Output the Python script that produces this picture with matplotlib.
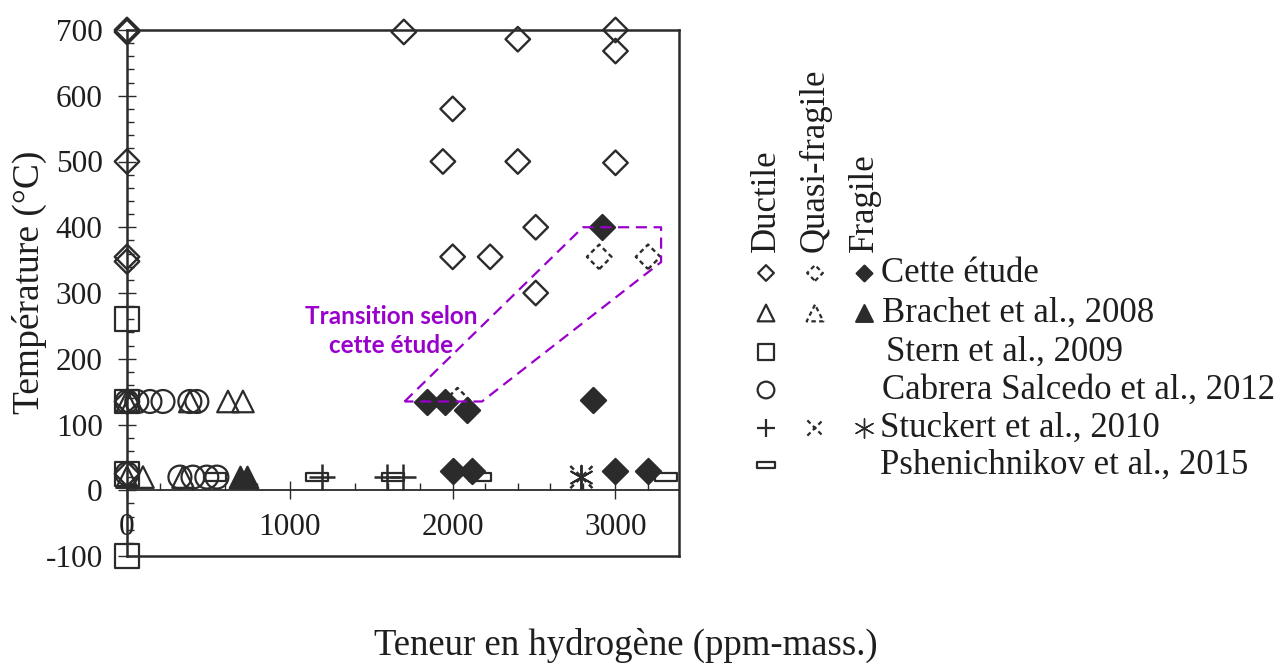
import matplotlib
matplotlib.use('Agg')
import matplotlib.pyplot as plt
from matplotlib.path import Path
from matplotlib.ticker import MultipleLocator

plt.rcParams['font.family'] = ['Liberation Serif', 'DejaVu Serif']
plt.rcParams['axes.unicode_minus'] = False

# --- data (ppm-mass., °C) ---
cette_ductile_x = [0, 0, 0, 0, 0, 0, 0, 1700, 2400, 3000, 3000, 2000, 1940, 2400, 3000, 2510, 2000, 2230, 2510]
cette_ductile_y = [700, 697, 500, 355, 348, 135, 25, 697, 686, 700, 668, 580, 500, 500, 498, 400, 355, 355, 300]
cette_quasi_x = [2900, 3200, 2030]
cette_quasi_y = [355, 355, 137]
cette_fragile_x = [2920, 1840, 1950, 2090, 2860, 2000, 2120, 3000, 3200]
cette_fragile_y = [401, 134, 134, 122, 137, 29, 29, 29, 29]

brachet_ductile_x = [0, 30, 386, 620, 712, 0, 98, 344]
brachet_ductile_y = [135, 135, 135, 135, 135, 20, 20, 20]
brachet_fragile_x = [693, 736]
brachet_fragile_y = [20, 20]

stern_x = [0, 0, 0, 0]
stern_y = [260, -100, 135, 25]

cabrera_x = [0, 60, 141, 221, 386, 429, 0, 325, 405, 490, 552]
cabrera_y = [135, 135, 135, 135, 135, 135, 25, 20, 20, 20, 20]

stuckert_ductile_x = [1196, 1595, 1693]
stuckert_ductile_y = [20, 20, 20]
stuckert_quasi_x = [2791]
stuckert_quasi_y = [20]
stuckert_fragile_x = [2791]
stuckert_fragile_y = [20]

psh_x = [540, 1166, 1632, 2166, 3313]
psh_y = [20, 20, 20, 20, 20]

# transition zone outline
transition_x = [1705, 2800, 3280, 3280, 2180, 1705]
transition_y = [135, 400, 400, 347, 135, 135]

study_labels = ['Cette étude', 'Brachet et al., 2008', 'Stern et al., 2009',
                'Cabrera Salcedo et al., 2012', 'Stuckert et al., 2010',
                'Pshenichnikov et al., 2015']
state_labels = ['Ductile', 'Quasi-fragile', 'Fragile']

ink = '#2b2b2b'
txt = '#1e1e1e'
purple = '#9900cc'
dash = (0, (2, 1.5))
minus = Path([(-0.5, -0.17), (0.5, -0.17), (0.5, 0.17), (-0.5, 0.17), (-0.5, -0.17)],
             [Path.MOVETO, Path.LINETO, Path.LINETO, Path.LINETO, Path.CLOSEPOLY])
star = (6, 2, 0)

fig = plt.figure(figsize=(12.74, 6.64), dpi=100)
ax = fig.add_axes([127 / 1274, 1 - 556 / 664, (679 - 127) / 1274, (556 - 30) / 664])
ax.set_xlim(0, 3390)
ax.set_ylim(-100, 700)


def pts(a, x, y, marker, ms, face='none', ls='solid', lw=1.6, z=3):
    a.scatter(x, y, s=ms ** 2, marker=marker, facecolors=face, edgecolors=ink,
              linewidths=lw, linestyles=ls, clip_on=False, zorder=z)


def lines(a, x, y, marker, ms, ls='solid', lw=1.8, z=3):
    # unfilled markers ('+', 'x', asterisk) take their colour from the face
    a.scatter(x, y, s=ms ** 2, marker=marker, c=ink, linewidths=lw,
              linestyles=ls, clip_on=False, zorder=z)


pts(ax, psh_x, psh_y, minus, 16, face='white')
pts(ax, stern_x, stern_y, 's', 17)
pts(ax, cabrera_x, cabrera_y, 'o', 16.5)
pts(ax, brachet_ductile_x, brachet_ductile_y, '^', 15.5)
pts(ax, brachet_fragile_x, brachet_fragile_y, '^', 15.5, face=ink)
lines(ax, stuckert_ductile_x, stuckert_ductile_y, '+', 19)
lines(ax, stuckert_quasi_x, stuckert_quasi_y, 'x', 16, ls=dash)
lines(ax, stuckert_fragile_x, stuckert_fragile_y, star, 17, lw=1.4)
pts(ax, cette_ductile_x, cette_ductile_y, 'D', 12.5, lw=1.7)
pts(ax, cette_quasi_x, cette_quasi_y, 'D', 12.5, ls=dash, lw=1.7)
pts(ax, cette_fragile_x, cette_fragile_y, 'D', 12.8, face=ink)

ax.plot(transition_x, transition_y, color=purple, lw=1.6, ls=(0, (5, 3)),
        clip_on=False, zorder=4)
ax.text(1620, 242, 'Transition selon\ncette étude', color=purple,
        fontsize=17.5, fontweight='bold', family=['Lato', 'DejaVu Sans'],
        ha='center', va='center', linespacing=1.3, zorder=5)

# Excel-like frame: x axis crossing at 0, box closed at -100
for side in ['left', 'top', 'right']:
    ax.spines[side].set_linewidth(1.8)
    ax.spines[side].set_color(ink)
ax.spines['bottom'].set_position(('data', 0))
ax.spines['bottom'].set_linewidth(1.3)
ax.spines['bottom'].set_color(ink)
ax.axhline(-100, color=ink, lw=1.8, clip_on=False)

ax.xaxis.set_major_locator(MultipleLocator(1000))
ax.xaxis.set_minor_locator(MultipleLocator(200))
ax.yaxis.set_major_locator(MultipleLocator(100))
ax.yaxis.set_minor_locator(MultipleLocator(20))
ax.tick_params(which='major', direction='inout', length=13, width=1,
               color=ink, labelsize=22.5, labelcolor=txt)
ax.tick_params(which='minor', direction='in', length=5, width=1, color=ink)
ax.tick_params(axis='y', which='major', pad=11)
ax.tick_params(axis='x', which='major', pad=10)

fig.text(29 / 1274, 1 - 282 / 664, 'Température (°C)', rotation=90,
         ha='center', va='center', fontsize=27, color=txt)
fig.text(626 / 1274, 1 - 645 / 664, 'Teneur en hydrogène (ppm-mass.)',
         ha='center', va='center', fontsize=26.5, color=txt)

# hand-built legend
lg = fig.add_axes([0, 0, 1, 1])
lg.set_xlim(0, 1274)
lg.set_ylim(664, 0)
lg.axis('off')

col_x = [766, 815, 864]
row_y = [273, 313, 352, 390, 428, 465]
text_x = [881, 882, 886, 882, 880, 880]
for cx, name in zip(col_x, state_labels):
    lg.text(cx, 252, name, rotation=90, ha='center', va='bottom',
            fontsize=25, color=txt)

legend_marks = [
    [('D', 8, 'none', 'solid'), ('D', 8, 'none', dash), ('D', 8, ink, 'solid')],
    [('^', 12, 'none', 'solid'), ('^', 12, 'none', dash), ('^', 12, ink, 'solid')],
    [('s', 12, 'none', 'solid'), None, None],
    [('o', 12, 'none', 'solid'), None, None],
    [('+', 13, None, 'solid'), ('x', 11, None, dash), (star, 14, None, 'solid')],
    [(minus, 13, 'white', 'solid'), None, None],
]
for ry, tx, name, marks in zip(row_y, text_x, study_labels, legend_marks):
    for cx, m in zip(col_x, marks):
        if m is None:
            continue
        if m[2] is None:
            lw = 1.0 if m[0] == star else 1.6
            lines(lg, [cx], [ry], m[0], m[1], ls=m[3], lw=lw)
        else:
            pts(lg, [cx], [ry], m[0], m[1], face=m[2], ls=m[3], lw=1.6)
    lg.text(tx, ry, name, ha='left', va='center', fontsize=25, color=txt)

fig.savefig('out.png', dpi=100)
